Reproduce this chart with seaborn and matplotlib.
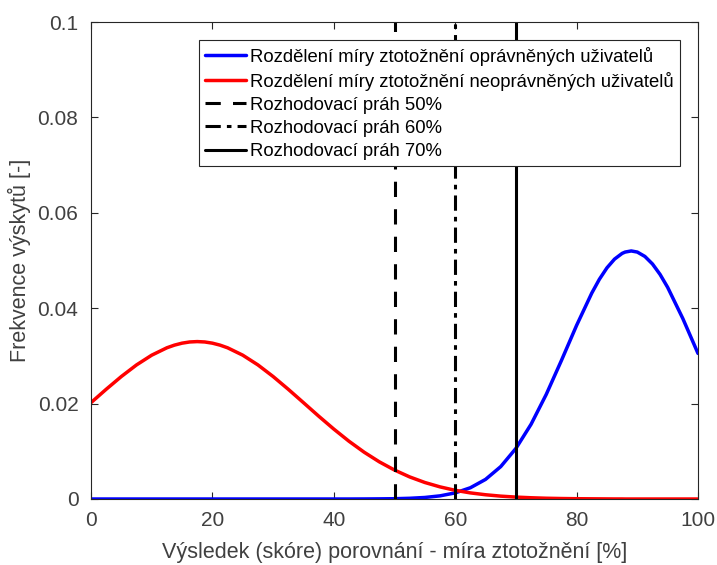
import matplotlib
matplotlib.use("Agg")
import matplotlib.pyplot as plt
import seaborn as sns
import pandas as pd

x_vals = [0, 2.5, 5, 7.5, 10, 12.5, 13.75, 15, 16.25, 17.5, 18.75, 20, 21.25, 22.5, 25,
          27.5, 30, 32.5, 35, 37.5, 40, 42.5, 45, 47.5, 50, 52.5, 55, 57.5, 60, 62.5,
          65, 67.5, 70, 72.5, 75, 77.5, 80, 82.5, 83.75, 85, 86.25, 87.5, 88, 89, 90,
          91.25, 92.5, 93.75, 95, 97.5, 100]
blue_vals = [0, 0, 0, 0, 0, 0, 0, 0, 0, 0, 0, 0, 0, 0, 0,
             0, 0, 0, 0, 0, 0, 0, 0.00001, 0.00003, 0.00006, 0.00015, 0.00032, 0.00066, 0.00128, 0.00236,
             0.00411, 0.00679, 0.01060, 0.01567, 0.02193, 0.02904, 0.03640, 0.04317, 0.04606, 0.04846, 0.05029, 0.05149, 0.05177, 0.05200, 0.05177,
             0.05085, 0.04927, 0.04708, 0.04437, 0.03783, 0.03052]
red_vals = [0.02020, 0.02300, 0.02568, 0.02811, 0.03015, 0.03170, 0.03226, 0.03267, 0.03292, 0.03300, 0.03292, 0.03267, 0.03226, 0.03170, 0.03015,
            0.02811, 0.02568, 0.02300, 0.02020, 0.01738, 0.01466, 0.01211, 0.00981, 0.00779, 0.00607, 0.00463, 0.00346, 0.00254, 0.00182, 0.00128,
            0.00089, 0.00060, 0.00040, 0.00026, 0.00016, 0.00010, 0.00006, 0.00004, 0.00003, 0.00002, 0.00001, 0.00001, 0, 0, 0,
            0, 0, 0, 0, 0, 0]
thresholds = [50, 60, 70]
labels = ["Rozdělení míry ztotožnění oprávněných uživatelů",
          "Rozdělení míry ztotožnění neoprávněných uživatelů",
          "Rozhodovací práh 50%",
          "Rozhodovací práh 60%",
          "Rozhodovací práh 70%"]
xticks = [0, 20, 40, 60, 80, 100]
yticks = [0, 0.02, 0.04, 0.06, 0.08, 0.1]
ytick_labels = ["0", "0.02", "0.04", "0.06", "0.08", "0.1"]

sns.set_style("white")
plt.rcParams['font.family'] = ['Liberation Sans', 'DejaVu Sans']
axc = '#262626'

fig = plt.figure(figsize=(7.17, 5.65), dpi=100)
ax = fig.add_axes([91/717, 1 - 499/565, (698-91)/717, (499-22)/565])

df = pd.DataFrame({"x": x_vals, "blue": blue_vals, "red": red_vals})
sns.lineplot(data=df, x="x", y="blue", ax=ax, color="#0000ff", lw=2.5, label=labels[0])
sns.lineplot(data=df, x="x", y="red", ax=ax, color="#ff0000", lw=2.5, label=labels[1])
styles = [(0, (5, 4)), (0, (5, 2, 1.5, 2)), '-']
for t, ls, lab in zip(thresholds, styles, labels[2:]):
    ax.axvline(t, color='black', lw=2.2, linestyle=ls, label=lab)

ax.set_xlim(0, 100)
ax.set_ylim(0, 0.1)
ax.set_xticks(xticks)
ax.set_yticks(yticks)
ax.set_yticklabels(ytick_labels)
ax.tick_params(direction='in', length=5, width=0.8, colors=axc, labelsize=15,
               top=True, right=True, bottom=True, left=True)
ax.tick_params(axis='x', pad=9)
ax.tick_params(axis='y', pad=9)
for lab in ax.get_xticklabels() + ax.get_yticklabels():
    lab.set_color('#404040')
for s in ax.spines.values():
    s.set_color(axc)
    s.set_linewidth(0.8)
ax.set_xlabel("Výsledek (skóre) porovnání - míra ztotožnění [%]", fontsize=15.5, color='#404040', labelpad=8)
ax.set_ylabel("Frekvence výskytů [-]", fontsize=15.5, color='#404040', labelpad=5)

leg = ax.legend(loc='upper right', bbox_to_anchor=(0.97, 0.962), fontsize=13.3, frameon=True,
                fancybox=False, edgecolor='#262626', framealpha=1.0, handlelength=2.2,
                handletextpad=0.2, labelspacing=0.33, borderpad=0.35, borderaxespad=0)
leg.get_frame().set_linewidth(0.8)
for t in leg.get_texts():
    t.set_color('#000000')

fig.savefig("out.png", dpi=100)
